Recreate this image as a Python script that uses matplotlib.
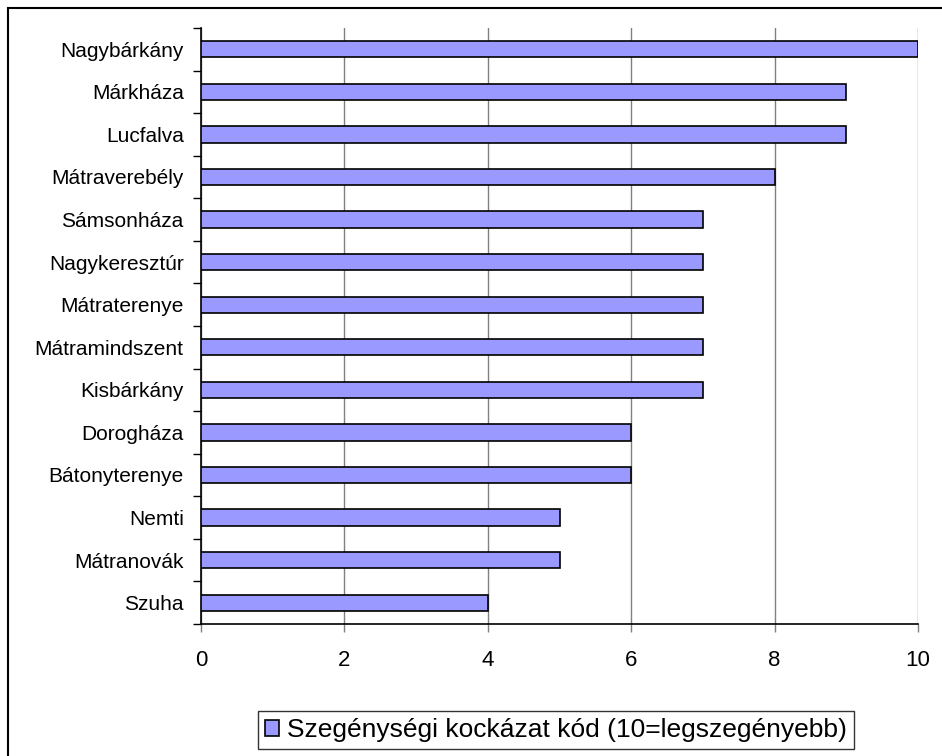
import matplotlib
matplotlib.use("Agg")
import matplotlib.pyplot as plt
from matplotlib.patches import Rectangle
import numpy as np

plt.rcParams['font.family'] = ['Liberation Sans', 'DejaVu Sans']

categories = ["Nagybárkány", "Márkháza", "Lucfalva", "Mátraverebély", "Sámsonháza",
              "Nagykeresztúr", "Mátraterenye", "Mátramindszent", "Kisbárkány",
              "Dorogháza", "Bátonyterenye", "Nemti", "Mátranovák", "Szuha"]
values = [10, 9, 9, 8, 7, 7, 7, 7, 7, 6, 6, 5, 5, 4]
xticks = [0, 2, 4, 6, 8, 10]
legend_label = "Szegénységi kockázat kód (10=legszegényebb)"

W, H = 942, 756
fig = plt.figure(figsize=(W / 100, H / 100), dpi=100)
fig.patch.set_facecolor('white')

# outer chart frame
fig.patches.append(Rectangle((8 / W, -0.05), 1.1, (H - 8) / H + 0.05,
                             transform=fig.transFigure, fill=False,
                             edgecolor='black', linewidth=1.5))

ax = fig.add_axes([201 / W, 1 - 624 / H, (918 - 201) / W, (624 - 28) / H])

n = len(categories)
y = np.arange(n)
ax.barh(y, values, height=0.38, color='#9999ff', edgecolor='black', linewidth=1.2,
        zorder=3, label=legend_label)

ax.set_xlim(0, 10)
ax.set_ylim(n - 0.5, -0.5)
ax.set_xticks(xticks)
ax.set_xticklabels([str(t) for t in xticks], fontsize=16)
ax.xaxis.grid(True, color='#808080', linewidth=1.0, zorder=0)
ax.tick_params(axis='x', direction='out', length=6, width=1, color='#808080', pad=13)

ax.set_yticks(np.arange(n + 1) - 0.5)
ax.set_yticklabels([])
ax.set_yticks(y, minor=True)
ax.set_yticklabels(categories, minor=True, fontsize=15)
ax.tick_params(axis='y', which='major', direction='out', length=6, width=1, color='black')
ax.tick_params(axis='y', which='minor', length=0, pad=12.5)

for s in ['top', 'right']:
    ax.spines[s].set_visible(False)
ax.spines['left'].set_color('black')
ax.spines['bottom'].set_color('black')
ax.spines['left'].set_linewidth(1.2)
ax.spines['bottom'].set_linewidth(1.2)

leg = fig.legend(loc='center', bbox_to_anchor=(556 / W, 1 - 730 / H), fontsize=19,
                 frameon=True, fancybox=False, handlelength=0.55, handleheight=0.55,
                 handletextpad=0.3, borderpad=0.25, borderaxespad=0)
leg.get_frame().set_edgecolor('black')
leg.get_frame().set_linewidth(1.0)

fig.savefig('out.png', dpi=100)
